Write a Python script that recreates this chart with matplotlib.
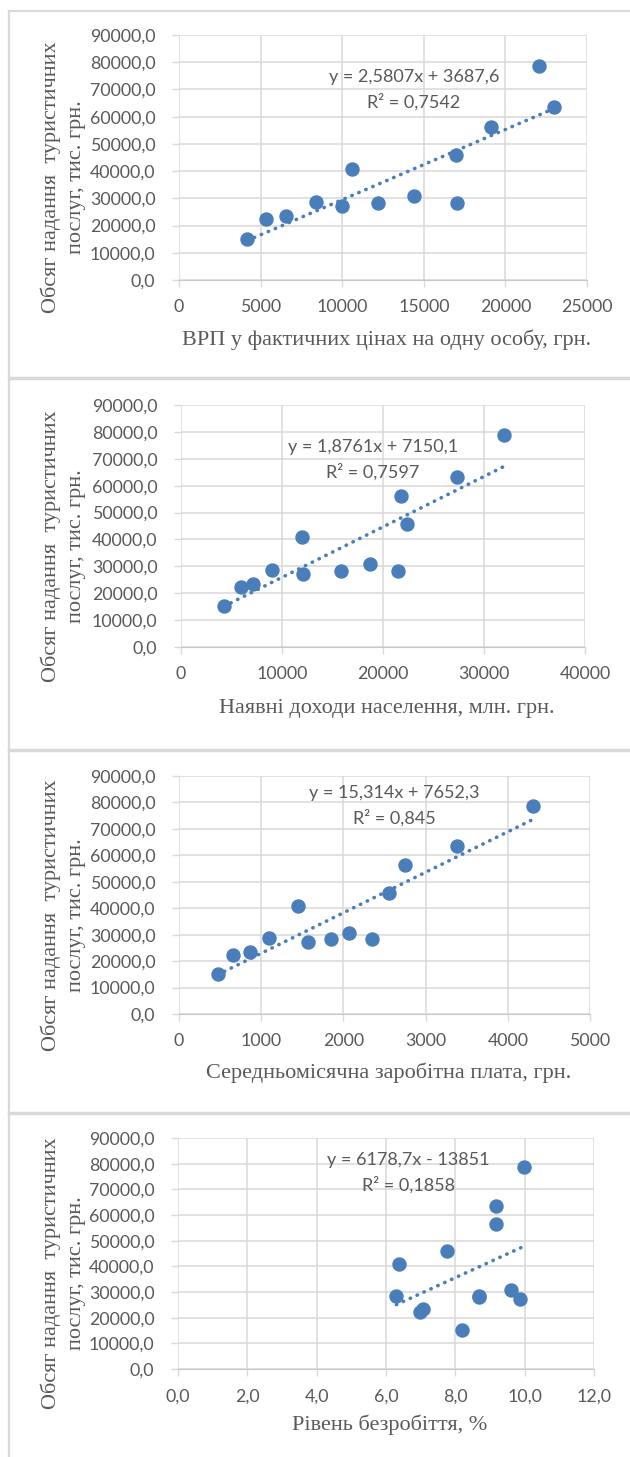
import numpy as np
import matplotlib
matplotlib.use("Agg")
import matplotlib.pyplot as plt
from matplotlib.lines import Line2D
from matplotlib.ticker import FuncFormatter, MultipleLocator

# обсяг надання туристичних послуг, тис. грн. (одні й ті самі регіони в усіх панелях)
tourism = [15100, 22300, 23500, 28600, 27300, 40900, 28300, 30800, 45900, 28200, 56300, 78700, 63400]

grp_per_capita = [4190, 5340, 6530, 8400, 10000, 10600, 12200, 14400, 17000, 17050, 19100, 22070, 22980]
disposable_income = [4260, 5900, 7100, 9000, 12100, 11950, 15800, 18700, 22400, 21500, 21800, 32000, 27300]
avg_wage = [469, 660, 860, 1090, 1569, 1447, 1852, 2067, 2556, 2351, 2752, 4306, 3382]
unemployment = [8.18, 6.98, 7.08, 6.30, 9.87, 6.38, 8.69, 9.60, 7.77, 8.69, 9.17, 9.98, 9.17]

# trendline coefficients as printed on the chart
slopes = [2.5807, 1.8761, 15.314, 6178.7]
intercepts = [3687.6, 7150.1, 7652.3, -13851]
eq_labels = ["y = 2,5807x + 3687,6", "y = 1,8761x + 7150,1",
             "y = 15,314x + 7652,3", "y = 6178,7x - 13851"]
r2_labels = ["0,7542", "0,7597", "0,845", "0,1858"]

x_labels = ["ВРП у фактичних цінах на одну особу, грн.",
            "Наявні доходи населення, млн. грн.",
            "Середньомісячна заробітна плата, грн.",
            "Рівень безробіття, %"]
y_label = "Обсяг надання  туристичних\nпослуг, тис. грн."
x_max = [25000, 40000, 5000, 12]
x_step = [5000, 10000, 1000, 2]

xs = [grp_per_capita, disposable_income, avg_wage, unemployment]

W, H = 630, 1457
GRAY = "#595959"
GRID = "#d9d9d9"
BLUE = "#4a7ebb"
TICKFONT = ["Lato", "DejaVu Sans"]
SERIF = ["Liberation Serif", "DejaVu Serif"]

# plot-area boxes in pixels: left, right, top, bottom
boxes = [(179, 587, 35, 280), (181, 585, 405, 647), (179, 590, 776, 1014), (178, 594, 1138, 1369)]
eq_pos = [(414, 77), (373, 447), (394, 793), (408, 1160)]
xlab_y = [340, 708, 1073, 1425]
dividers = [11, 378, 750, 1113]

fig = plt.figure(figsize=(W / 100, H / 100), dpi=100)

def fx(px):
    return px / W

def fy(py):
    return 1 - py / H

for d in dividers:
    fig.add_artist(Line2D([fx(9), 1], [fy(d), fy(d)], color=GRID, lw=2.5 if d > 11 else 1.6,
                          transform=fig.transFigure))
fig.add_artist(Line2D([fx(9), fx(9)], [fy(11), 0], color=GRID, lw=1.6, transform=fig.transFigure))

for i in range(4):
    l, r, t, b = boxes[i]
    ax = fig.add_axes([fx(l), fy(b), (r - l) / W, (b - t) / H])
    x = np.array(xs[i], dtype=float)
    y = np.array(tourism, dtype=float)

    ax.set_xlim(0, x_max[i])
    ax.set_ylim(0, 90000)
    ax.xaxis.set_major_locator(MultipleLocator(x_step[i]))
    ax.yaxis.set_major_locator(MultipleLocator(10000))
    ax.yaxis.set_major_formatter(FuncFormatter(lambda v, p: f"{v:.1f}".replace(".", ",")))
    if i == 3:
        ax.xaxis.set_major_formatter(FuncFormatter(lambda v, p: f"{v:.1f}".replace(".", ",")))
    else:
        ax.xaxis.set_major_formatter(FuncFormatter(lambda v, p: f"{v:.0f}"))

    ax.grid(True, color=GRID, lw=1.1, zorder=0)
    ax.set_axisbelow(True)
    for s in ax.spines.values():
        s.set_visible(False)
    ax.spines["bottom"].set_visible(True)
    ax.spines["bottom"].set_color("#c8c8c8")
    ax.tick_params(axis="both", length=5, width=1, color=GRID, labelcolor=GRAY, labelsize=12.8)
    ax.tick_params(axis="y", pad=12)
    ax.tick_params(axis="x", pad=9)
    for lab in ax.get_xticklabels() + ax.get_yticklabels():
        lab.set_fontfamily(TICKFONT)

    ax.scatter(x, y, s=88, color=BLUE, zorder=3, clip_on=False)
    xx = np.array([x.min(), x.max()])
    ax.plot(xx, slopes[i] * xx + intercepts[i], color=BLUE, lw=2.6,
            linestyle=(0, (0.1, 2.0)), dash_capstyle="round", zorder=4)

    ex, ey = eq_pos[i]
    fig.text(fx(ex), fy(ey), eq_labels[i], ha="center", va="center",
             fontsize=13, color=GRAY, family=TICKFONT)
    fig.text(fx(ex), fy(ey + 25), "R² = " + r2_labels[i], ha="center", va="center",
             fontsize=13, color=GRAY, family=TICKFONT)

    fig.text(fx((l + r) / 2 + 4), fy(xlab_y[i]), x_labels[i], ha="center", va="center",
             fontsize=16, color=GRAY, family=SERIF)
    fig.text(fx(63), fy((t + b) / 2 + 20), y_label, ha="center", va="center", rotation=90,
             multialignment="center", linespacing=1.45, fontsize=16, color=GRAY, family=SERIF)

fig.savefig("out.png", dpi=100)
